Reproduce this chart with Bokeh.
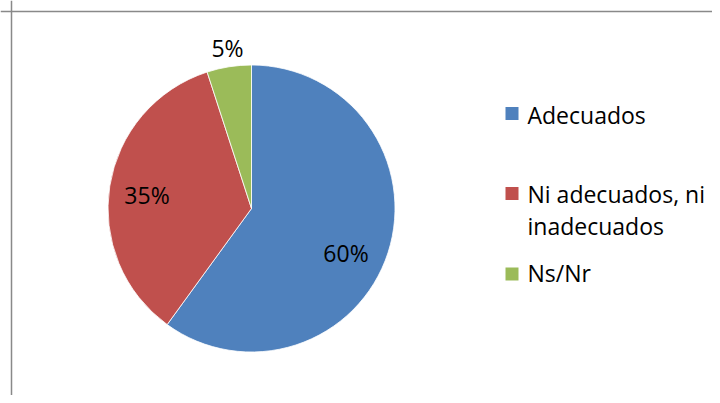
import numpy as np
from bokeh.plotting import figure
from bokeh.models import Range1d, Span, ColumnDataSource
from bokeh.core.properties import value
from bokeh.embed import file_html
from bokeh.resources import INLINE

# ---- data ----
categories = ["Adecuados", "Ni adecuados, ni inadecuados", "Ns/Nr"]
legend_lines = [["Adecuados"], ["Ni adecuados, ni", "inadecuados"], ["Ns/Nr"]]
shares = [60, 35, 5]
colors = ["#4F81BD", "#C0504D", "#9BBB59"]

# ---- layout (image pixel coordinates, y downward) ----
W, H = 712, 395
IMG_H = 403
cx, cy, R = 251, 208, 143.5
label_xy = [(345.5, 252.5), (146.5, 194.5), (227, 47.5)]     # cap centres
legend_sq_x = 511.5
legend_sq_y = [113, 193, 273.5]
legend_text_x = 527
legend_text_mid = [[114], [193.5, 225.5], [272.5]]
FONT = "Open Sans"
FS = "23px"
SHIFT = 8  # cap centre -> baseline offset

def Y(y):
    return IMG_H - y

p = figure(width=W, height=H, output_backend="svg", toolbar_location=None,
           x_range=Range1d(0, W), y_range=Range1d(IMG_H - H, IMG_H),
           min_border=0, background_fill_color="white", border_fill_color="white")
p.axis.visible = False
p.grid.visible = False
p.outline_line_color = None

# frame (only top and left edges visible in reference)
p.add_layout(Span(location=11, dimension="height", line_color="#898989", line_width=1.5))
p.add_layout(Span(location=Y(11), dimension="width", line_color="#898989", line_width=1.5))

vals = np.array(shares, dtype=float)
frac = vals / vals.sum()
cum = np.concatenate([[0], np.cumsum(frac)])
start = np.pi / 2 - 2 * np.pi * cum[:-1]
end = np.pi / 2 - 2 * np.pi * cum[1:]

src = ColumnDataSource(dict(cat=categories, start=start, end=end, color=colors))
p.wedge(x=cx, y=Y(cy), radius=R, start_angle="start", end_angle="end",
        direction="clock", fill_color="color", line_color="white", line_width=0.8,
        source=src)

# percentage labels
pct = ["%d%%" % round(f * 100) for f in frac]
p.text(x=[xy[0] for xy in label_xy], y=[Y(xy[1]) for xy in label_xy], text=pct,
       text_align="center", text_baseline="middle",
       text_font=value(FONT), text_font_size=FS, text_color="black")

# legend
p.rect(x=[legend_sq_x] * 3, y=[Y(v) for v in legend_sq_y], width=13, height=13,
       fill_color=colors, line_color=None)
tx, ty, tt = [], [], []
for lines, mids in zip(legend_lines, legend_text_mid):
    for t, m in zip(lines, mids):
        tx.append(legend_text_x)
        ty.append(Y(m))
        tt.append(t)
p.text(x=tx, y=ty, text=tt, text_align="left", text_baseline="middle",
       text_font=value(FONT), text_font_size=FS, text_color="black")

open("out.html", "w").write(file_html(p, INLINE))
